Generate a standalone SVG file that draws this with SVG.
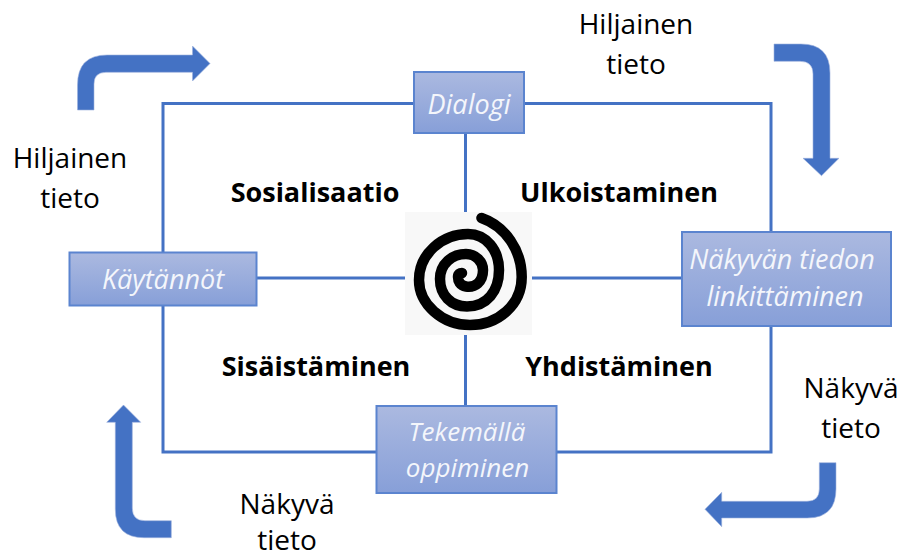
<svg xmlns="http://www.w3.org/2000/svg" width="901" height="558" viewBox="0 0 901 558">
<style>
.t{font-family:"Open Sans","Liberation Sans",sans-serif;font-size:28px;fill:#000;text-anchor:middle}
.b{font-family:"Open Sans","Liberation Sans",sans-serif;font-size:27px;font-weight:700;fill:#000;text-anchor:middle}
.n{font-family:"Open Sans","Liberation Sans",sans-serif;font-size:27px;font-style:italic;fill:#f4f6fb;text-anchor:middle}
.s{font-size:26px}
.box{fill:url(#g);stroke:#5b84cf;stroke-width:2}
.c{fill:none;stroke:#4472c4;stroke-width:3}
.a{fill:#4472c4;stroke:#9db2dd;stroke-width:.6}
</style>
<defs>
<linearGradient id="g" x1="0" y1="0" x2="0" y2="1"><stop offset="0" stop-color="#abb9e0"/><stop offset="1" stop-color="#879fd8"/></linearGradient>
</defs>
<rect width="901" height="558" fill="#fff"/>
<g id="connectors">
<path class="c" d="M414 103.500H163V252M163 305V452H376M556 452H771V326M771 232V103.500H524"/>
<path class="c" d="M465.500 133V212M465.500 335V406M256 278H405M532 278H682"/>
</g>
<g id="arrow-top-left"><path class="a" d="M77.500 110V85Q77.500 55 107 55H192.500V46L210 63.500L192.500 81V72.300H106Q94 72.300 94 84V110Z"/></g>
<g id="arrow-top-right"><path class="a" d="M774 44H801Q830 44 830 73V158.300H839L821.500 175.700L803 158.300H813V74Q813 61.300 800 61.300H774Z"/></g>
<g id="arrow-bottom-right"><path class="a" d="M836 462.700V489Q836 518 807 518H721.700V526.700L705 509.300L721.700 492.300V501.300H807Q819.300 501.300 819.300 489V462.700Z"/></g>
<g id="arrow-bottom-left"><path class="a" d="M171.300 537.700H144Q115.300 537.700 115.300 509V422.300H106.700L123.500 405L140.700 422.300H132.300V508Q132.300 520.700 145 520.700H171.300Z"/></g>
<g id="spiral">
<rect x="405" y="212" width="127" height="123" fill="#f8f8f8"/>
<path d="M481.500 218C505 226 521.700 250 521.700 277C521.700 305 498 325 470 325C442 325 419 304 419 280C419 254 442 234 468 234C486 234 499 250 499 270C499 291 487 306.500 467 306.500C451 306.500 440 295 440 279C440 264 452 254 466 254C476 254 483 262 483 270C483 282 475 288 466 286.500C460 285.500 458 281 458 277C458 274 460 273 462 273" fill="none" stroke="#000" stroke-width="10.500" stroke-linecap="round"/>
</g>
<g id="node-dialogi"><rect class="box" x="414" y="72" width="110" height="61"/><text class="n" x="469" y="114">Dialogi</text></g>
<g id="node-kaytannot"><rect class="box" x="69.500" y="252.500" width="187" height="53"/><text class="n" x="163" y="289">Käytännöt</text></g>
<g id="node-nakyvan"><rect class="box" x="682" y="232" width="209" height="94"/><text class="n" x="782" y="269">Näkyvän tiedon</text><text class="n" x="785" y="306">linkittäminen</text></g>
<g id="node-tekemalla"><rect class="box" x="376.500" y="406" width="180" height="87"/><text class="n s" x="467" y="441">Tekemällä</text><text class="n s" x="467.500" y="477">oppiminen</text></g>
<g id="labels">
<text class="t"><tspan x="636" y="34">Hiljainen</tspan><tspan x="636" y="74">tieto</tspan></text>
<text class="t"><tspan x="70" y="168">Hiljainen</tspan><tspan x="70" y="208">tieto</tspan></text>
<text class="t"><tspan x="851" y="398">Näkyvä</tspan><tspan x="851" y="438">tieto</tspan></text>
<text class="t"><tspan x="287" y="514">Näkyvä</tspan><tspan x="287" y="549.500">tieto</tspan></text>
<text class="b" x="315" y="202">Sosialisaatio</text>
<text class="b" x="619" y="202">Ulkoistaminen</text>
<text class="b" x="316" y="376">Sisäistäminen</text>
<text class="b" x="619" y="376">Yhdistäminen</text>
</g>
</svg>
